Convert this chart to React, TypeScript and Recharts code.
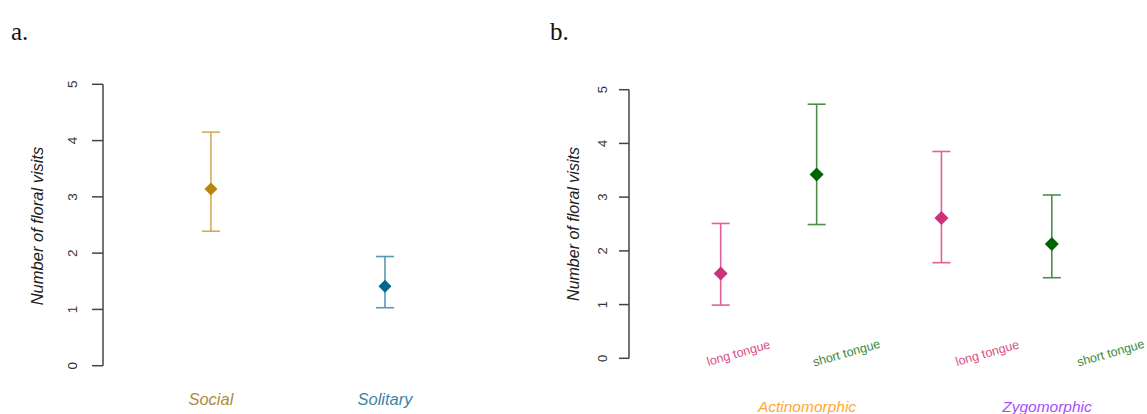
import {
  ComposedChart,
  Scatter,
  ErrorBar,
  XAxis,
  YAxis,
} from "recharts";

// panel a: sociality
const socialityGroups = ["Social", "Solitary"];
const socialityX = [1, 2];
const socialityMean = [3.14, 1.41];
const socialityLow = [2.39, 1.03];
const socialityHigh = [4.15, 1.94];

// panel b: tongue length within flower symmetry
const tongueLabels = ["long tongue", "short tongue", "long tongue", "short tongue"];
const tongueX = [1, 2, 3.3, 4.45];
const tongueMean = [1.58, 3.42, 2.61, 2.13];
const tongueLow = [0.99, 2.49, 1.78, 1.5];
const tongueHigh = [2.51, 4.73, 3.85, 3.04];
const symmetryGroups = ["Actinomorphic", "Zygomorphic"];

const yTicks = [0, 1, 2, 3, 4, 5];

const FONT = '"Liberation Sans", Arial, sans-serif';
const AXIS = "#444";

const SOCIAL_COLORS = [
  { point: "#b8860b", bar: "#d2ac5e", text: "#b08a3a" },
  { point: "#00688b", bar: "#5b98b4", text: "#3b84a6" },
];
const TONGUE_COLORS = {
  long: { point: "#cd3278", bar: "#e0609a", text: "#d94f8a" },
  short: { point: "#006400", bar: "#4e8c4e", text: "#3d8a3d" },
};
// shift of the slanted tongue labels from their point
const TONGUE_LABEL_SHIFT = [19, 31, 47, 60];

const pointRow = (x: number[], mean: number[], low: number[], high: number[], i: number) => ({
  x: x[i],
  y: mean[i],
  err: [mean[i] - low[i], high[i] - mean[i]],
});

const socialData = socialityGroups.map((_, i) =>
  pointRow(socialityX, socialityMean, socialityLow, socialityHigh, i)
);
const longData = [0, 2].map((i) => pointRow(tongueX, tongueMean, tongueLow, tongueHigh, i));
const shortData = [1, 3].map((i) => pointRow(tongueX, tongueMean, tongueLow, tongueHigh, i));

const diamond = (fill: string, r: number) => (props: any) => {
  const { cx, cy } = props;
  return (
    <polygon
      points={`${cx},${cy - r} ${cx + r},${cy} ${cx},${cy + r} ${cx - r},${cy}`}
      fill={fill}
    />
  );
};

const YTick = (labelX: number, size: number) => (props: any) => {
  const { y, payload } = props;
  return (
    <text
      x={labelX}
      y={y}
      transform={`rotate(-90, ${labelX}, ${y})`}
      textAnchor="middle"
      fontSize={size}
      fill="#333"
      fontFamily={FONT}
    >
      {payload.value}
    </text>
  );
};

const YLabel = (x: number, y: number, size: number) => () => (
  <text
    x={x}
    y={y}
    transform={`rotate(-90, ${x}, ${y})`}
    textAnchor="middle"
    fontSize={size}
    fontStyle="italic"
    fill="#222"
    fontFamily={FONT}
  >
    Number of floral visits
  </text>
);

const SocialTick = (props: any) => {
  const { x, index } = props;
  return (
    <text
      x={x}
      y={405}
      textAnchor="middle"
      fontSize={16.5}
      fontStyle="italic"
      fill={SOCIAL_COLORS[index].text}
      fontFamily={FONT}
    >
      {socialityGroups[index]}
    </text>
  );
};

const TongueTick = (props: any) => {
  const { x, index } = props;
  const cx = x + TONGUE_LABEL_SHIFT[index];
  const cy = 357;
  const c = index % 2 === 0 ? TONGUE_COLORS.long : TONGUE_COLORS.short;
  return (
    <text
      x={cx}
      y={cy}
      transform={`rotate(-16, ${cx}, ${cy})`}
      textAnchor="middle"
      fontSize={12.5}
      fill={c.text}
      fontFamily={FONT}
    >
      {tongueLabels[index]}
    </text>
  );
};

export default function App() {
  return (
    <div
      style={{
        position: "absolute",
        left: 0,
        top: 0,
        width: 1147,
        height: 414,
        background: "#fff",
        fontFamily: FONT,
        overflow: "hidden",
      }}
    >
      <div style={{ position: "absolute", left: 0, top: 0 }}>
        <ComposedChart
          width={540}
          height={414}
          margin={{ top: 84.3, right: 68, bottom: 0, left: 0 }}
        >
          <XAxis
            type="number"
            dataKey="x"
            domain={[0.38, 2.5]}
            allowDataOverflow
            ticks={socialityX}
            axisLine={false}
            tickLine={false}
            height={48.3}
            tick={SocialTick}
          />
          <YAxis
            type="number"
            domain={[0, 5]}
            ticks={yTicks}
            width={103}
            tickSize={11}
            axisLine={{ stroke: AXIS, strokeWidth: 1.5 }}
            tickLine={{ stroke: AXIS, strokeWidth: 1.5 }}
            tick={YTick(77, 13.5)}
            label={{ content: YLabel(43, 226, 16.5) }}
          />
          {socialData.map((d, i) => (
            <Scatter
              key={socialityGroups[i]}
              data={[d]}
              dataKey="y"
              shape={diamond(SOCIAL_COLORS[i].point, 6.5)}
              isAnimationActive={false}
            >
              <ErrorBar
                dataKey="err"
                direction="y"
                width={9}
                stroke={SOCIAL_COLORS[i].bar}
                strokeWidth={1.6}
                isAnimationActive={false}
              />
            </Scatter>
          ))}
        </ComposedChart>
      </div>

      <div style={{ position: "absolute", left: 540, top: 0 }}>
        <ComposedChart
          width={607}
          height={414}
          margin={{ top: 89.7, right: 4, bottom: 0, left: 0 }}
        >
          <XAxis
            type="number"
            dataKey="x"
            domain={[0.045, 5.4]}
            allowDataOverflow
            ticks={tongueX}
            axisLine={false}
            tickLine={false}
            height={55.7}
            tick={TongueTick}
          />
          <YAxis
            type="number"
            domain={[0, 5]}
            ticks={yTicks}
            width={89}
            tickSize={10}
            axisLine={{ stroke: AXIS, strokeWidth: 1.5 }}
            tickLine={{ stroke: AXIS, strokeWidth: 1.5 }}
            tick={YTick(67, 13)}
            label={{ content: YLabel(39, 224, 16) }}
          />
          <Scatter
            data={longData}
            dataKey="y"
            shape={diamond(TONGUE_COLORS.long.point, 7)}
            isAnimationActive={false}
          >
            <ErrorBar
              dataKey="err"
              direction="y"
              width={9}
              stroke={TONGUE_COLORS.long.bar}
              strokeWidth={1.6}
              isAnimationActive={false}
            />
          </Scatter>
          <Scatter
            data={shortData}
            dataKey="y"
            shape={diamond(TONGUE_COLORS.short.point, 7)}
            isAnimationActive={false}
          >
            <ErrorBar
              dataKey="err"
              direction="y"
              width={9}
              stroke={TONGUE_COLORS.short.bar}
              strokeWidth={1.6}
              isAnimationActive={false}
            />
          </Scatter>
        </ComposedChart>
      </div>

      <svg
        width={1147}
        height={414}
        style={{ position: "absolute", left: 0, top: 0, pointerEvents: "none" }}
      >
        <text x={11} y={40} fontSize={25} fontFamily='"Liberation Serif", serif' fill="#111">
          a.
        </text>
        <text x={550} y={40} fontSize={25} fontFamily='"Liberation Serif", serif' fill="#111">
          b.
        </text>
        <text x={807} y={411.5} textAnchor="middle" fontSize={15.5} fontStyle="italic" fill="#ffa733" fontFamily={FONT}>
          {symmetryGroups[0]}
        </text>
        <text x={1047} y={411.5} textAnchor="middle" fontSize={15.5} fontStyle="italic" fill="#a64dff" fontFamily={FONT}>
          {symmetryGroups[1]}
        </text>
      </svg>
    </div>
  );
}
